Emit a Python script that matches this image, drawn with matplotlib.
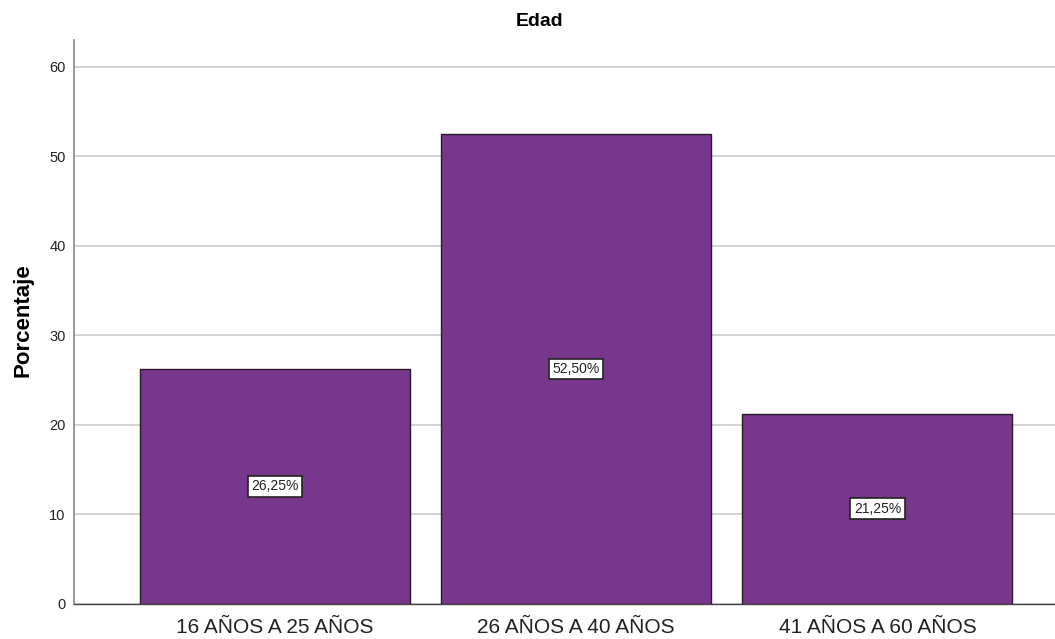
import numpy as np
import matplotlib
matplotlib.use("Agg")
import matplotlib.pyplot as plt

plt.rcParams['font.family'] = ['Liberation Sans', 'DejaVu Sans']

categorias = ["16 AÑOS A 25 AÑOS", "26 AÑOS A 40 AÑOS", "41 AÑOS A 60 AÑOS"]
porcentajes = [26.25, 52.50, 21.25]
etiquetas = ["26,25%", "52,50%", "21,25%"]

fig = plt.figure(figsize=(10.55, 6.39), dpi=100)
ax = fig.add_axes([0.0701, 0.0548, 0.93, 0.8826])

x = np.arange(len(categorias))
ax.bar(x, porcentajes, width=0.897, color="#77378B", edgecolor="#2a1a2e", linewidth=1.0, zorder=3)

for xi, v, lab in zip(x, porcentajes, etiquetas):
    ax.text(xi, v / 2, lab, ha="center", va="center", fontsize=10, color="#222222", zorder=4,
            bbox=dict(boxstyle="square,pad=0.25", facecolor="white", edgecolor="#222222", linewidth=1.2))

ax.set_xlim(-0.668, 2.59)
ax.set_ylim(0, 63)
ax.set_yticks([0, 10, 20, 30, 40, 50, 60])
ax.set_xticks(x)
ax.set_xticklabels(categorias, fontsize=15, color="#222222")
ax.tick_params(axis="y", labelsize=10.5, length=0, pad=6, colors="#222222")
ax.tick_params(axis="x", length=0, pad=10)

ax.yaxis.grid(True, color="#cccccc", linewidth=1.2, zorder=0)
ax.set_axisbelow(True)
for s in ["top", "right"]:
    ax.spines[s].set_visible(False)
ax.spines["left"].set_color("#888888")
ax.spines["left"].set_linewidth(1.2)
ax.spines["bottom"].set_color("#444444")
ax.spines["bottom"].set_linewidth(1.0)

fig.text(540 / 1055, 1 - 21 / 639, "Edad", ha="center", va="center", fontsize=14, fontweight="bold")
fig.text(23 / 1055, 1 - 320 / 639, "Porcentaje", ha="center", va="center", rotation=90,
         fontsize=16, fontweight="bold")

fig.savefig("out.png", dpi=100)
